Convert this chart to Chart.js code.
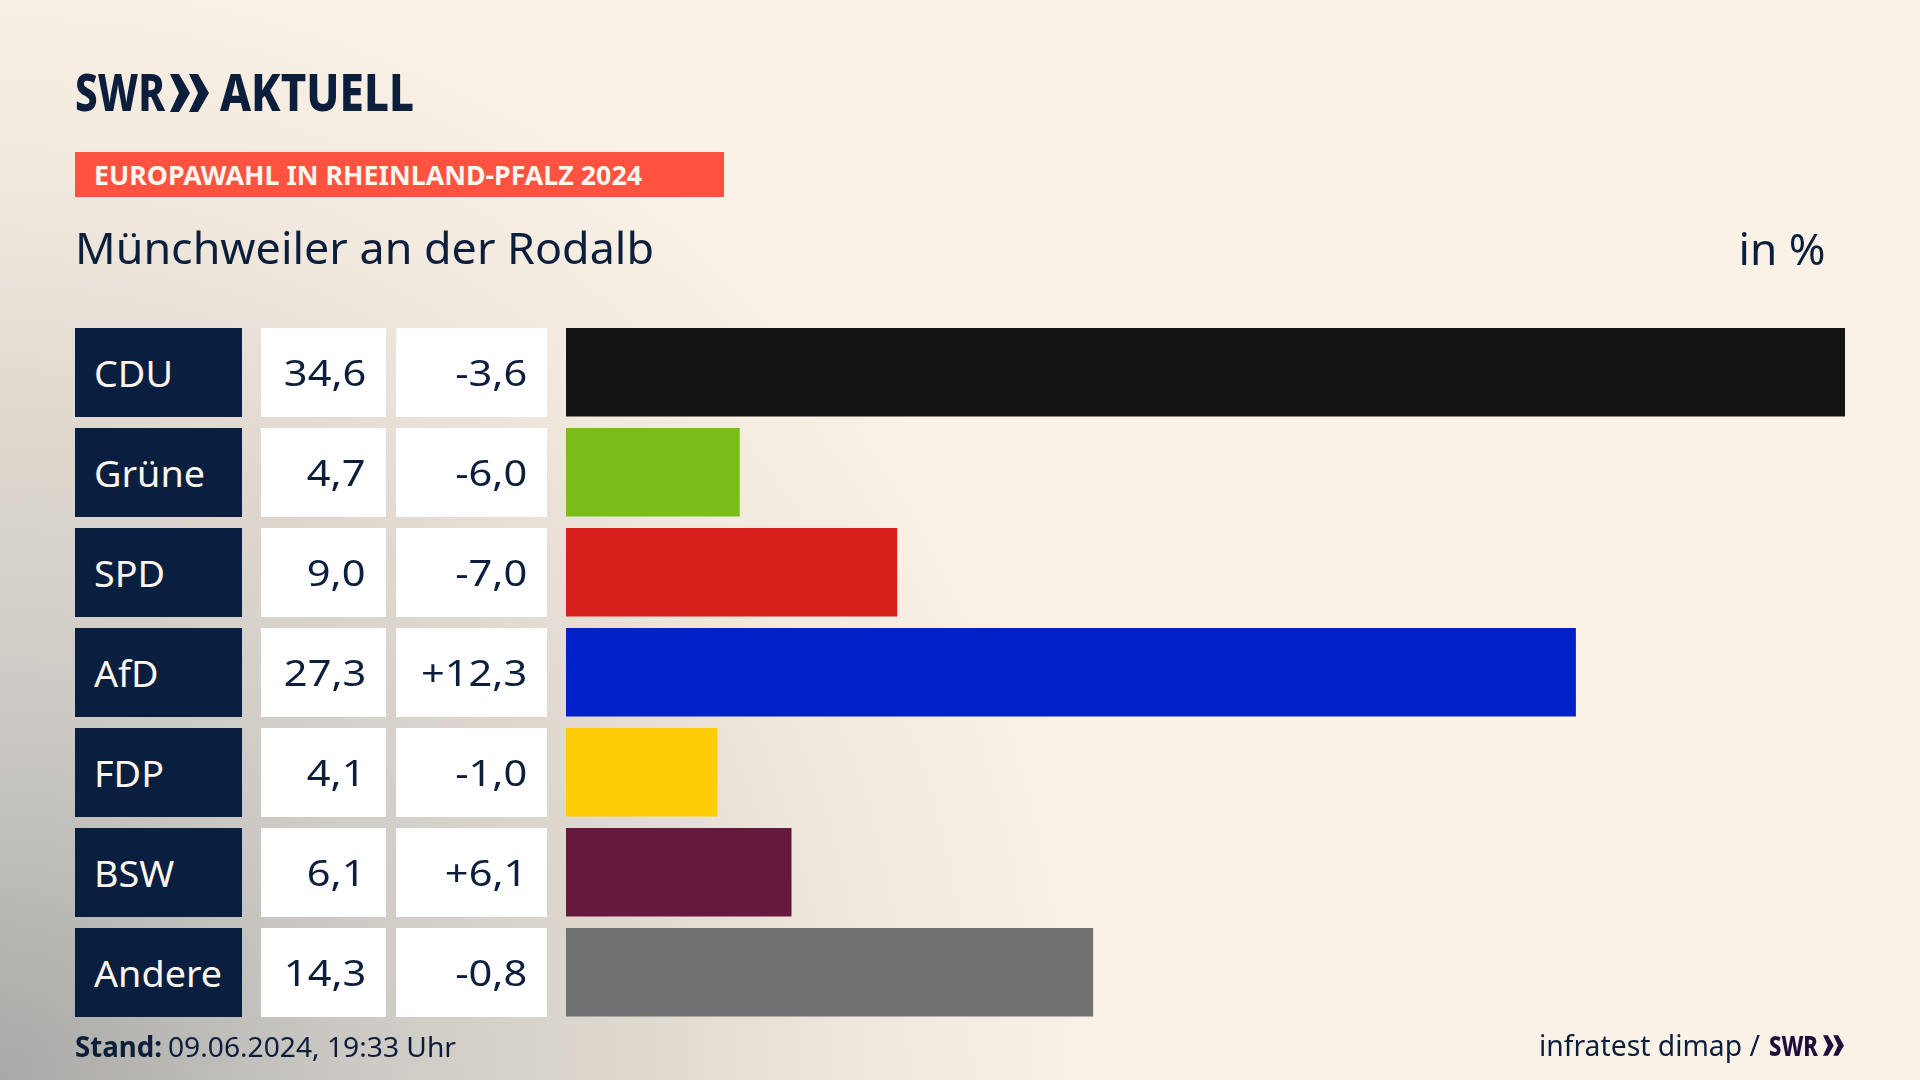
<!DOCTYPE html>
<html lang="de">
<head>
<meta charset="utf-8">
<title>Europawahl in Rheinland-Pfalz 2024</title>
<script src="https://cdn.jsdelivr.net/npm/chart.js@4"></script>
<style>
html, body { margin: 0; padding: 0; width: 1920px; height: 1080px; overflow: hidden; }
body {
    position: relative;
    font-family: "Noto Sans", sans-serif;
    color: #0b1f3d;
    background:
        radial-gradient(ellipse 1120px 1150px at 0 1080px, rgb(168,168,166) 0%, rgb(203,200,195) 30%, rgb(224,217,208) 58%, rgb(243,234,223) 80%, rgba(251,242,231,0) 100%),
        #fbf2e7;
}
#chart { position: absolute; left: 0; top: 0; }
.t { position: absolute; white-space: nowrap; line-height: 1; }
.r { text-align: right; transform-origin: right center; }
.l { transform-origin: left center; }
.num { transform: scaleX(1.14); }
.box { position: absolute; height: 88.5px; }
.name { left: 75px; width: 167px; background: #0a1f3f; }
.val { left: 261px; width: 125px; background: #fff; }
.diff { left: 396px; width: 151px; background: #fff; }
#banner { position: absolute; left: 75px; top: 152px; width: 649px; height: 45px; background: #ff5240; }
</style>
</head>
<body>
<canvas id="chart" width="1920" height="1080"></canvas>

<div class="t l" data-w="90" style="left:75px;top:65px;font-size:52px;font-weight:800">SWR</div>
<svg style="position:absolute;left:170px;top:74px" width="39" height="38" viewBox="0 0 39 38"><path d="M0 0h9l11 19L9 38H0l9-19zM19 0h9l11 19-11 19h-9l9-19z" fill="#0b1f3d"/></svg>
<div class="t l" data-w="194" style="left:220px;top:65px;font-size:52px;font-weight:800">AKTUELL</div>

<div id="banner"></div>
<div class="t l" data-w="548" style="left:94px;top:161px;font-size:27px;font-weight:700;color:#fdf6ee">EUROPAWAHL IN RHEINLAND-PFALZ 2024</div>
<div class="t l" data-w="579" style="left:75px;top:226px;font-size:43px">Münchweiler an der Rodalb</div>
<div class="t r" data-w="87" style="right:94px;top:227px;font-size:43px">in %</div>

<div id="rows"></div>

<div class="t l" data-w="87" style="left:75px;top:1032px;font-size:28px;font-weight:700">Stand:</div>
<div class="t l" data-w="288" style="left:168px;top:1032px;font-size:28px">09.06.2024, 19:33 Uhr</div>
<div class="t l" data-w="221" style="left:1539px;top:1030px;font-size:29px">infratest dimap /</div>
<div class="t l" data-w="49" style="left:1769px;top:1030px;font-size:29px;font-weight:800;color:#1f0e3d">SWR</div>
<svg style="position:absolute;left:1823px;top:1035px" width="21" height="21" viewBox="0 0 39 38"><path d="M0 0h9l11 19L9 38H0l9-19zM19 0h9l11 19-11 19h-9l9-19z" fill="#1f0e3d"/></svg>

<script>
const parties = ['CDU', 'Grüne', 'SPD', 'AfD', 'FDP', 'BSW', 'Andere'];
// labels round to one decimal, bar ends in the picture sit a bit under some of them
const shares = [34.6, 4.7, 8.96, 27.32, 4.1, 6.1, 14.26];
const changes = [-3.6, -6.0, -7.0, 12.3, -1.0, 6.1, -0.8];
const barColors = ['#141414', '#7abd1a', '#d61f1b', '#0021c8', '#ffcc08', '#66183d', '#707173'];

function formatShare(v) {
    return v.toFixed(1).replace('.', ',');
}

function formatChange(v) {
    return (v > 0 ? '+' : '') + formatShare(v);
}

// left columns of the table, one row per party
const rows = document.getElementById('rows');
parties.forEach((party, i) => {
    const top = 328 + i * 100;
    rows.insertAdjacentHTML('beforeend', `
        <div class="box name" style="top:${top}px"></div>
        <div class="box val" style="top:${top}px"></div>
        <div class="box diff" style="top:${top}px"></div>
        <div class="t l" style="left:94px;top:${top + 26}px;font-size:37px;transform:scaleX(1.02);color:#fdf6ee">${party}</div>
        <div class="t r num" style="right:${1920 - 366}px;top:${top + 26}px;font-size:36.5px">${formatShare(shares[i])}</div>
        <div class="t r num" style="right:${1920 - 527}px;top:${top + 26}px;font-size:36.5px">${formatChange(changes[i])}</div>`);
});

// squeeze the fallback font down to the measured widths
document.fonts.ready.then(() => {
    document.querySelectorAll('[data-w]').forEach(el => {
        const w = el.getBoundingClientRect().width;
        el.style.transform = `scaleX(${el.dataset.w / w})`;
    });
});

new Chart(document.getElementById('chart').getContext('2d'), {
    type: 'bar',
    data: {
        labels: parties,
        datasets: [{
            data: shares,
            backgroundColor: barColors,
            borderWidth: 0,
            barPercentage: 0.885,
            categoryPercentage: 1
        }]
    },
    options: {
        indexAxis: 'y',
        responsive: false,
        animation: false,
        layout: { padding: { left: 566, right: 75, top: 322.25, bottom: 57.75 } },
        scales: {
            x: { display: false, min: 0, max: 34.6 },
            y: { display: false }
        },
        plugins: { legend: { display: false }, tooltip: { enabled: false } }
    }
});
</script>
</body>
</html>
